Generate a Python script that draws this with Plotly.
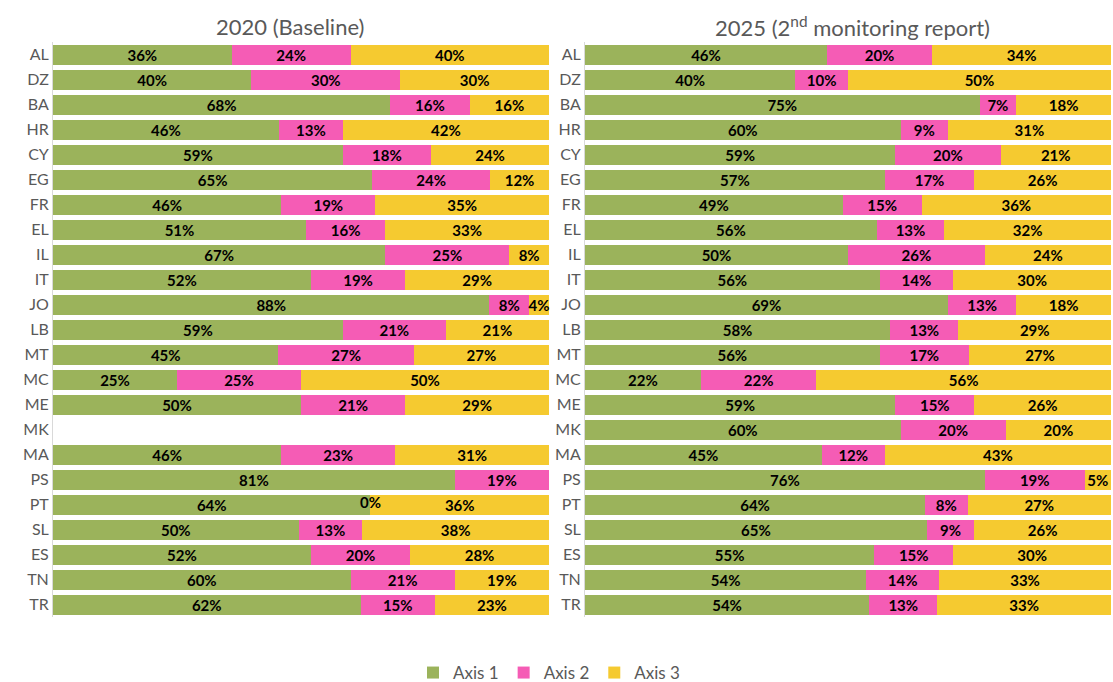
import plotly.graph_objects as go

countries = ["AL","DZ","BA","HR","CY","EG","FR","EL","IL","IT","JO","LB","MT","MC","ME","MK","MA","PS","PT","SL","ES","TN","TR"]

a1_2020 = [36,40,68,46,59,65,46,51,67,52,88,59,45,25,50,None,46,81,64,50,52,60,62]
a2_2020 = [24,30,16,13,18,24,19,16,25,19,8,21,27,25,21,None,23,19,0,13,20,21,15]
a3_2020 = [40,30,16,42,24,12,35,33,8,29,4,21,27,50,29,None,31,None,36,38,28,19,23]

a1_2025 = [46,40,75,60,59,57,49,56,50,56,69,58,56,22,59,60,45,76,64,65,55,54,54]
a2_2025 = [20,10,7,9,20,17,15,13,26,14,13,13,17,22,15,20,12,19,8,9,15,14,13]
a3_2025 = [34,50,18,31,21,26,36,32,24,30,18,29,27,56,26,20,43,5,27,26,30,33,33]

series_names = ["Axis 1", "Axis 2", "Axis 3"]
colors = ["#9BB35B", "#F55CB5", "#F5CA30"]
LABEL_FONT = dict(color="black", size=15, family="Lato", weight="bold")

def norm(series):
    out = [[] for _ in series]
    for i in range(len(series[0])):
        vals = [s[i] for s in series]
        tot = sum(v for v in vals if v is not None)
        for k, v in enumerate(vals):
            out[k].append(None if (v is None or tot == 0) else v / tot * 100)
    return out

fig = go.Figure()
panels = [([a1_2020, a2_2020, a3_2020], "x", "y"), ([a1_2025, a2_2025, a3_2025], "x2", "y2")]
for p, (series, xa, ya) in enumerate(panels):
    normed = norm(series)
    zx, zy, zt = [], [], []
    for k in range(3):
        fig.add_trace(go.Bar(
            y=countries, x=normed[k], orientation="h",
            name=series_names[k], marker=dict(color=colors[k], line=dict(width=0)),
            text=[("" if v is None else f"{v}%") for v in series[k]],
            textposition="inside", insidetextanchor="middle",
            textfont=LABEL_FONT, textangle=0,
            cliponaxis=False, constraintext="none",
            showlegend=(p == 0), legendgroup=series_names[k],
            xaxis=xa, yaxis=ya, hoverinfo="skip",
        ))
        # zero-width segments: place their label at the segment boundary
        for i, v in enumerate(series[k]):
            if v == 0:
                zx.append(sum(normed[j][i] or 0 for j in range(k)))
                zy.append(countries[i])
                zt.append(f"{v}%")
    if zx:
        fig.add_trace(go.Scatter(x=zx, y=zy, text=zt, mode="text", textfont=LABEL_FONT,
                                 textposition="middle center", showlegend=False,
                                 xaxis=xa, yaxis=ya, hoverinfo="skip", cliponaxis=False))

L, R, T, B = 53, 2, 42, 65
W, H = 1113, 682
pw, ph = W - L - R, H - T - B

def px(x):
    return (x - L) / pw

def py(y):
    return (H - B - y) / ph

yax = dict(domain=[0, 1], autorange="reversed", showline=True, linecolor="#D9D9D9",
           linewidth=1, ticks="", tickfont=dict(size=16, color="#595959", family="Lato"),
           automargin=False, showgrid=False, fixedrange=True)

fig.update_layout(
    barmode="stack", bargap=0.2,
    width=W, height=H,
    margin=dict(l=L, r=R, t=T, b=B, autoexpand=False),
    paper_bgcolor="white", plot_bgcolor="white",
    uniformtext=dict(minsize=15, mode="show"),
    font=dict(family="Lato", color="#595959"),
    legend=dict(orientation="h", x=px(549), xanchor="center", y=py(673), yanchor="middle",
                font=dict(size=17, color="#595959"), traceorder="normal", itemwidth=30),
    xaxis=dict(domain=[0, px(549)], range=[0, 100.001], visible=False, fixedrange=True, anchor="y"),
    xaxis2=dict(domain=[px(585), 1], range=[0, 100.001], visible=False, fixedrange=True, anchor="y2"),
    yaxis=dict(**yax, anchor="x"),
    yaxis2=dict(**yax, anchor="x2"),
    annotations=[
        dict(text="2020 (Baseline)", x=px(290), y=py(27), xref="paper", yref="paper",
             xanchor="center", yanchor="middle",
             showarrow=False, font=dict(size=22, color="#595959", family="Lato")),
        dict(text="2025 (2<sup>nd</sup> monitoring report)", x=px(852), y=py(27), xref="paper", yref="paper",
             xanchor="center", yanchor="middle",
             showarrow=False, font=dict(size=22, color="#595959", family="Lato")),
    ],
)

fig.write_html("out.html", config={"displayModeBar": False},
               post_script="document.body.style.margin='0px';document.body.style.padding='0px';")
